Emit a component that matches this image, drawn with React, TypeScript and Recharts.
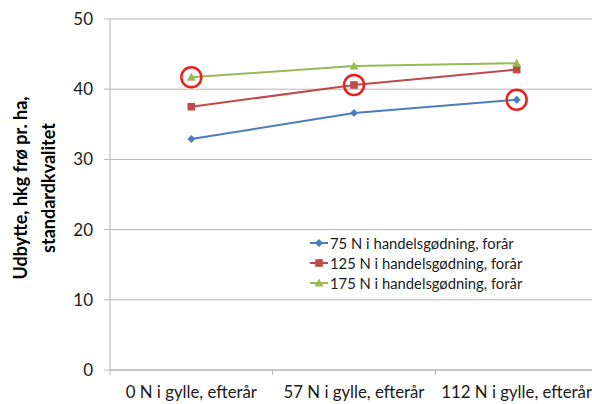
import React from 'react';
import { LineChart, Line, XAxis, YAxis, CartesianGrid, Legend, ReferenceDot, Label } from 'recharts';

const categories = ['0 N i gylle, efterår', '57 N i gylle, efterår', '112 N i gylle, efterår'];
const series75 = [32.9, 36.6, 38.5];
const series125 = [37.5, 40.6, 42.8];
const series175 = [41.7, 43.3, 43.7];
const seriesNames = ['75 N i handelsgødning, forår', '125 N i handelsgødning, forår', '175 N i handelsgødning, forår'];
const yTicks = [0, 10, 20, 30, 40, 50];
const yTitleLines = ['Udbytte, hkg frø pr. ha,', 'standardkvalitet'];
// highlighted points: [series index, category index]
const highlights: [number, number][] = [[2, 0], [1, 1], [0, 2]];

const allSeries = [series75, series125, series175];
const COLORS = ['#4A7EBB', '#BE4B48', '#98B954'];
const HIGHLIGHT = '#E8231C';
const FONT = 'Lato, "Open Sans", sans-serif';

const data = categories.map((c, i) => ({ cat: c, s75: series75[i], s125: series125[i], s175: series175[i] }));
const keys = ['s75', 's125', 's175'];

const CHART_W = 598;
const CHART_H = 404;
const MARGIN = { top: 19, right: 0, bottom: 0, left: 0 };
const YAXIS_W = 110;
const XAXIS_H = 34;
const PLOT_BOTTOM = CHART_H - MARGIN.bottom - XAXIS_H;
const HALF_BAND = (CHART_W - YAXIS_W - MARGIN.right - MARGIN.left) / categories.length / 2;

const Marker = ({ idx, cx, cy }: { idx: number; cx: number; cy: number }) => {
  const c = COLORS[idx];
  if (idx === 0) {
    return <path d={`M${cx},${cy - 4} L${cx + 4},${cy} L${cx},${cy + 4} L${cx - 4},${cy} Z`} fill={c} />;
  }
  if (idx === 1) {
    return <rect x={cx - 3.8} y={cy - 3.8} width={7.6} height={7.6} fill={c} />;
  }
  return <path d={`M${cx},${cy - 4.5} L${cx + 4.5},${cy + 3.5} L${cx - 4.5},${cy + 3.5} Z`} fill={c} />;
};

const makeDot = (idx: number) => (props: any) => {
  const { cx, cy, index } = props;
  if (cx == null || cy == null) return <g key={index} />;
  return <Marker key={index} idx={idx} cx={cx} cy={cy} />;
};

const XTick = (props: any) => {
  const { x, payload } = props;
  return (
    <g>
      <line x1={x + HALF_BAND} y1={PLOT_BOTTOM} x2={x + HALF_BAND} y2={PLOT_BOTTOM + 5} stroke="#B3B3B3" />
      {payload.index === 0 && (
        <line x1={x - HALF_BAND} y1={PLOT_BOTTOM} x2={x - HALF_BAND} y2={PLOT_BOTTOM + 5} stroke="#B3B3B3" />
      )}
      <text x={x} y={PLOT_BOTTOM + 28} textAnchor="middle" fontSize={16.8} fontFamily={FONT} fill="#1a1a1a">
        {payload.value}
      </text>
    </g>
  );
};

const YTitle = () => (
  <g>
    <text transform="translate(27,188) rotate(-90)" textAnchor="middle" fontSize={18} fontWeight="bold" fontFamily={FONT} fill="#000">
      {yTitleLines[0]}
    </text>
    <text transform="translate(55,188) rotate(-90)" textAnchor="middle" fontSize={18} fontWeight="bold" fontFamily={FONT} fill="#000">
      {yTitleLines[1]}
    </text>
  </g>
);

const LegendContent = () => (
  <div style={{ fontFamily: FONT, fontSize: 14.8, color: '#1a1a1a', lineHeight: '20px' }}>
    {seriesNames.map((n, i) => (
      <div key={n} style={{ display: 'flex', alignItems: 'center', height: 20 }}>
        <svg width={20} height={20} style={{ display: 'block' }}>
          <line x1={1} y1={10} x2={19} y2={10} stroke={COLORS[i]} strokeWidth={2} />
          <Marker idx={i} cx={10} cy={10} />
        </svg>
        <span style={{ marginLeft: 1, whiteSpace: 'nowrap' }}>{n}</span>
      </div>
    ))}
  </div>
);

export default function App() {
  return (
    <div style={{ position: 'absolute', left: 0, top: 0, width: 592, height: 404, overflow: 'hidden', background: '#fff' }}>
      <LineChart width={CHART_W} height={CHART_H} data={data} margin={MARGIN}>
        <CartesianGrid vertical={false} stroke="#B7B7B7" strokeWidth={1} />
        <XAxis
          dataKey="cat"
          interval={0}
          tickLine={false}
          axisLine={{ stroke: '#B3B3B3' }}
          tick={<XTick />}
          height={XAXIS_H}
          padding={{ left: HALF_BAND, right: HALF_BAND }}
        />
        <YAxis
          domain={[0, 50]}
          ticks={yTicks}
          width={YAXIS_W}
          axisLine={{ stroke: '#B3B3B3' }}
          tickLine={{ stroke: '#B3B3B3' }}
          tickSize={6}
          tickMargin={11}
          tick={{ fontSize: 17, fontFamily: FONT, fill: '#1a1a1a' }}
        >
          <Label content={<YTitle />} />
        </YAxis>
        <Legend
          layout="vertical"
          align="center"
          verticalAlign="middle"
          content={<LegendContent />}
          wrapperStyle={{ left: 309, top: 233, width: 'auto' }}
        />
        {keys.map((k, i) => (
          <Line
            key={k}
            dataKey={k}
            name={seriesNames[i]}
            stroke={COLORS[i]}
            strokeWidth={2}
            dot={makeDot(i)}
            activeDot={false}
            isAnimationActive={false}
          />
        ))}
        {highlights.map(([s, c]) => (
          <ReferenceDot
            key={`${s}-${c}`}
            x={categories[c]}
            y={allSeries[s][c]}
            r={10}
            fill="none"
            stroke={HIGHLIGHT}
            strokeWidth={2.5}
          />
        ))}
      </LineChart>
    </div>
  );
}
